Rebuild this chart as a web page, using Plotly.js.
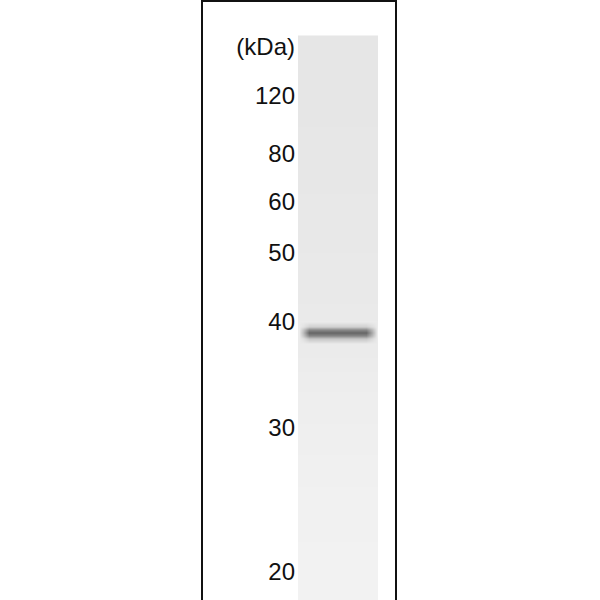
<!DOCTYPE html>
<html>
<head>
<meta charset="utf-8">
<script src="https://cdn.plot.ly/plotly-3.0.1.min.js"></script>
<style>
	html, body { margin: 0; padding: 0; background: white; }
	#blot { width: 600px; height: 600px; }
</style>
</head>
<body>
<div id="blot"></div>
<script>
// marker ladder (kDa) and where each sits down the gel (migration, px from top)
const markerLabels = ["(kDa)", "120", "80", "60", "50", "40", "30", "20"]
const markerPos = [47, 96, 154, 202, 253, 322, 428, 572]

// lane scan: rows down the gel, columns across the lane, darkness 0 (white) .. 1 (black)
const laneRows = [36, 37, 150, 300, 321, 326, 329, 332, 335, 338, 343, 380, 500, 599, 600]
const laneCols = [298, 299, 303, 309, 366, 372, 377, 378]
const laneDarkness = [
	[0.10, 0.10, 0.10, 0.10, 0.10, 0.10, 0.10, 0.10],
	[0.10, 0.10, 0.10, 0.10, 0.10, 0.10, 0.10, 0.10],
	[0.095, 0.095, 0.095, 0.095, 0.095, 0.095, 0.095, 0.095],
	[0.085, 0.085, 0.085, 0.085, 0.085, 0.085, 0.085, 0.085],
	[0.08, 0.08, 0.08, 0.08, 0.08, 0.08, 0.08, 0.08],
	[0.08, 0.08, 0.11, 0.18, 0.18, 0.13, 0.08, 0.08],
	[0.08, 0.08, 0.22, 0.46, 0.46, 0.27, 0.08, 0.08],
	[0.08, 0.08, 0.26, 0.60, 0.60, 0.33, 0.08, 0.08],
	[0.08, 0.08, 0.22, 0.47, 0.47, 0.27, 0.08, 0.08],
	[0.08, 0.08, 0.12, 0.22, 0.22, 0.14, 0.08, 0.08],
	[0.08, 0.08, 0.08, 0.08, 0.08, 0.08, 0.08, 0.08],
	[0.07, 0.07, 0.07, 0.07, 0.07, 0.07, 0.07, 0.07],
	[0.055, 0.055, 0.055, 0.055, 0.055, 0.055, 0.055, 0.055],
	[0.05, 0.05, 0.05, 0.05, 0.05, 0.05, 0.05, 0.05],
	[0.05, 0.05, 0.05, 0.05, 0.05, 0.05, 0.05, 0.05]
]

var lane = {
	type: "heatmap",
	x: laneCols,
	y: laneRows,
	z: laneDarkness,
	zmin: 0,
	zmax: 1,
	zsmooth: "best",
	colorscale: [[0, "#ffffff"], [1, "#000000"]],
	showscale: false,
	hoverinfo: "skip"
}

var layout = {
	width: 600,
	height: 600,
	margin: { l: 298, r: 222, t: 0, b: 0, pad: 0 },
	paper_bgcolor: "white",
	plot_bgcolor: "white",
	showlegend: false,
	xaxis: {
		range: [298, 378],
		visible: false,
		fixedrange: true
	},
	yaxis: {
		range: [600, 0],
		tickmode: "array",
		tickvals: markerPos,
		ticktext: markerLabels,
		ticks: "",
		ticklabelstandoff: 2,
		showgrid: false,
		zeroline: false,
		showline: false,
		tickfont: { family: "Liberation Sans, Arial, sans-serif", size: 24, color: "#111" },
		fixedrange: true
	},
	shapes: [
		{
			// the box around the whole blot panel
			type: "rect",
			xref: "paper",
			yref: "paper",
			x0: (202 - 298) / 80,
			x1: (396 - 298) / 80,
			y0: -0.05,
			y1: 1 - 1 / 600,
			line: { color: "#111", width: 2 },
			fillcolor: "rgba(0,0,0,0)"
		}
	]
}

var config = {
	displayModeBar: false,
	staticPlot: true
}

Plotly.newPlot("blot", [lane], layout, config)
</script>
</body>
</html>
